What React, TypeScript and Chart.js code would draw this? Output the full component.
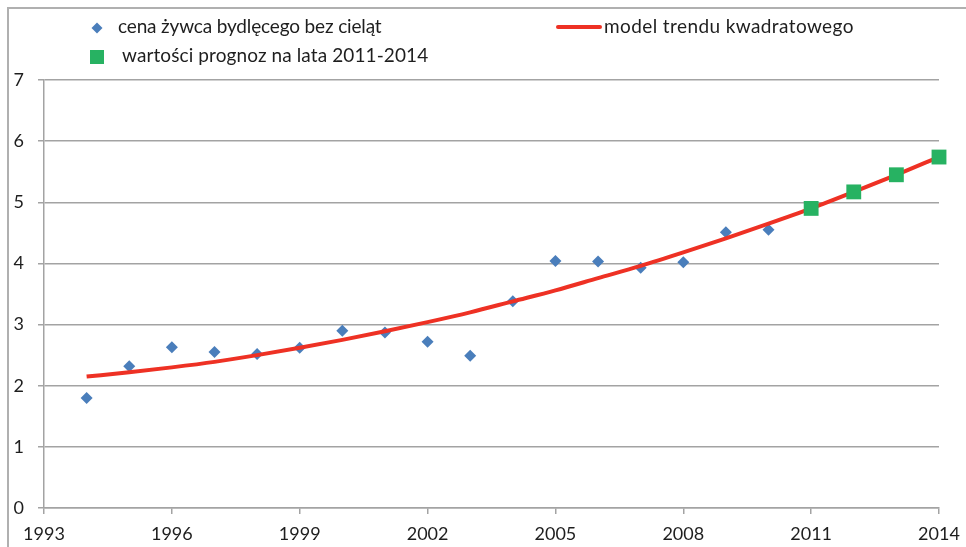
import React, { useEffect, useRef } from "react";
import { Chart, registerables } from "chart.js";

Chart.register(...registerables);

const observedYears = [1994, 1995, 1996, 1997, 1998, 1999, 2000, 2001, 2002, 2003, 2004, 2005, 2006, 2007, 2008, 2009, 2010];
const observedPrices = [1.80, 2.32, 2.63, 2.55, 2.52, 2.62, 2.90, 2.87, 2.72, 2.49, 3.38, 4.04, 4.03, 3.93, 4.02, 4.51, 4.55];

const trendYears = [1994, 1995, 1996, 1997, 1998, 1999, 2000, 2001, 2002, 2003, 2004, 2005, 2006, 2007, 2008, 2009, 2010, 2011, 2012, 2013, 2014];
const trendValues = [2.15, 2.22, 2.30, 2.39, 2.50, 2.62, 2.75, 2.89, 3.04, 3.20, 3.38, 3.56, 3.76, 3.96, 4.18, 4.41, 4.65, 4.90, 5.17, 5.45, 5.74];

const forecastYears = [2011, 2012, 2013, 2014];
const forecastValues = [4.90, 5.17, 5.45, 5.74];

const seriesNames = ["cena żywca bydlęcego bez cieląt", "model trendu kwadratowego", "wartości prognoz na lata 2011-2014"];

const FONT = "Lato, 'Noto Sans', sans-serif";
const BLUE = "#4a7ebb";
const RED = "#ee3124";
const GREEN = "#27b262";
const GRID = "#a3a3a3";
const TEXT = "#1e1e1e";

export default function App() {
  const canvasRef = useRef<HTMLCanvasElement | null>(null);

  useEffect(() => {
    if (!canvasRef.current) return;
    const chart = new Chart(canvasRef.current, {
      type: "scatter",
      data: {
        datasets: [
          {
            label: seriesNames[2],
            data: forecastYears.map((x, i) => ({ x, y: forecastValues[i] })),
            pointStyle: "rect",
            pointRadius: 10.5,
            pointBackgroundColor: GREEN,
            pointBorderColor: GREEN,
            pointBorderWidth: 0,
            showLine: false,
            clip: false,
            order: 0,
          },
          {
            label: seriesNames[1],
            data: trendYears.map((x, i) => ({ x, y: trendValues[i] })),
            showLine: true,
            borderColor: RED,
            borderWidth: 4,
            pointRadius: 0,
            cubicInterpolationMode: "monotone",
            fill: false,
            clip: false,
            order: 1,
          },
          {
            label: seriesNames[0],
            data: observedYears.map((x, i) => ({ x, y: observedPrices[i] })),
            pointStyle: "rectRot",
            pointRadius: 6,
            pointBackgroundColor: BLUE,
            pointBorderColor: BLUE,
            pointBorderWidth: 0,
            showLine: false,
            clip: false,
            order: 2,
          },
        ],
      },
      options: {
        animation: false,
        responsive: false,
        maintainAspectRatio: false,
        layout: { padding: { left: 0, right: 27, top: 80, bottom: 0 } },
        plugins: {
          legend: { display: false },
          tooltip: { enabled: false },
        },
        scales: {
          x: {
            type: "linear",
            min: 1993,
            max: 2014,
            ticks: {
              stepSize: 3,
              color: TEXT,
              font: { family: FONT, size: 18 },
              padding: 9,
              maxRotation: 0,
              callback: (v: any) => String(v),
            },
            grid: {
              drawOnChartArea: false,
              drawTicks: true,
              tickLength: 6,
              color: GRID,
              lineWidth: 1.5,
            },
            border: { color: GRID, width: 1.5 },
            afterFit: (s: any) => {
              s.height = 39;
              s.paddingLeft = 0;
              s.paddingRight = 0;
            },
          },
          y: {
            min: 0,
            max: 7,
            ticks: {
              stepSize: 1,
              color: TEXT,
              font: { family: FONT, size: 18 },
              padding: 14,
            },
            grid: {
              drawOnChartArea: true,
              drawTicks: true,
              tickLength: 6,
              color: GRID,
              lineWidth: 1.5,
            },
            border: { color: GRID, width: 1.5 },
            afterFit: (s: any) => {
              s.width = 44;
              s.paddingTop = 0;
              s.paddingBottom = 0;
            },
          },
        },
      },
    });
    return () => chart.destroy();
  }, []);

  const legendText: React.CSSProperties = {
    position: "absolute",
    fontFamily: FONT,
    fontSize: 19,
    color: TEXT,
    lineHeight: "20px",
    whiteSpace: "nowrap",
  };

  return (
    <div style={{ position: "fixed", left: 0, top: 0, width: 966, height: 547, background: "#fff", overflow: "hidden" }}>
      <canvas ref={canvasRef} width={966} height={547} style={{ position: "absolute", left: 0, top: 0, width: 966, height: 547 }} />
      <div style={{ position: "absolute", left: 7, top: 7, width: 970, height: 560, borderTop: "2px solid #b0b0b0", borderLeft: "2px solid #b0b0b0", boxSizing: "border-box", pointerEvents: "none" }} />
      <div style={{ position: "absolute", left: 92, top: 23, width: 10, height: 10, background: BLUE, transform: "rotate(45deg) scale(0.78)" }} />
      <div style={{ ...legendText, left: 118, top: 16, letterSpacing: "-0.15px" }}>{seriesNames[0]}</div>
      <div style={{ position: "absolute", left: 556, top: 25, width: 46, height: 4, background: RED, borderRadius: 2 }} />
      <div style={{ ...legendText, left: 604, top: 16, letterSpacing: "0.4px" }}>{seriesNames[1]}</div>
      <div style={{ position: "absolute", left: 90, top: 50, width: 14, height: 14, background: GREEN }} />
      <div style={{ ...legendText, left: 122, top: 45, letterSpacing: "0.1px" }}>{seriesNames[2]}</div>
    </div>
  );
}
